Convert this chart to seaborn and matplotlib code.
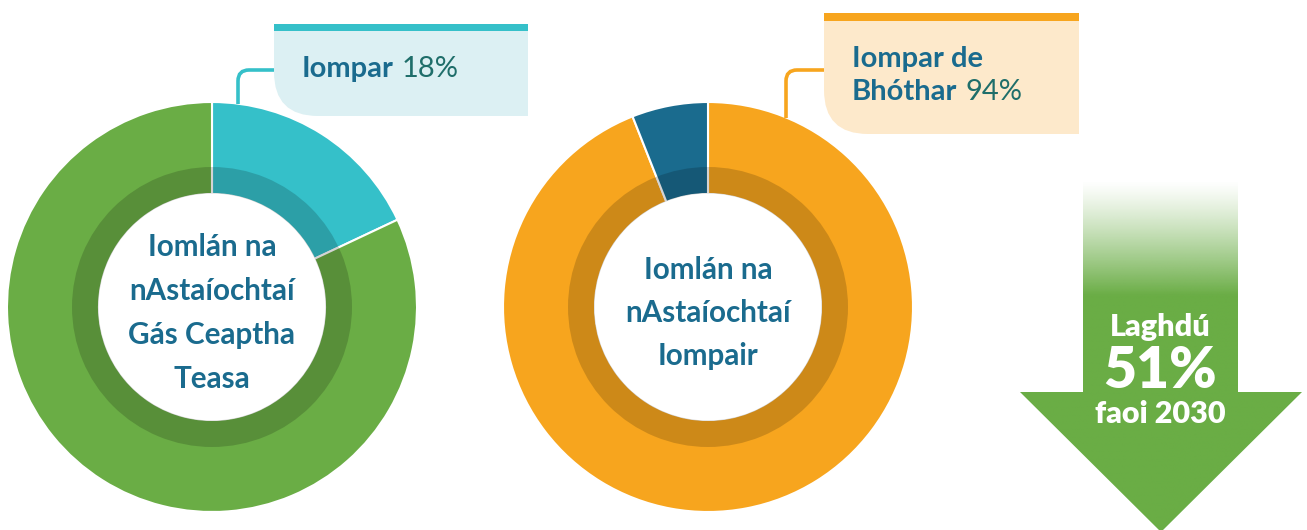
import numpy as np
import matplotlib
matplotlib.use("Agg")
import matplotlib.pyplot as plt
import seaborn as sns
from matplotlib.patches import Wedge, PathPatch, Polygon, Rectangle, Circle
from matplotlib.path import Path

# ---------------- data ----------------
heat_labels = ["Iompar", "Eile"]
heat_values = [18, 82]
transport_labels = ["Iompar de Bhóthar", "Eile"]
transport_values = [94, 6]
heat_title = ["Iomlán na", "nAstaíochtaí", "Gás Ceaptha", "Teasa"]
transport_title = ["Iomlán na", "nAstaíochtaí", "Iompair"]
reduction_pct = 51
reduction_year = 2030

# ---------------- style ----------------
sns.set_theme(style="white")
plt.rcParams["font.family"] = ["Lato", "DejaVu Sans"]

TEAL = "#35c0c9"
GREEN = "#6aad45"
ORANGE = "#f7a51e"
BLUE = "#1a6b8e"
PCT = "#1f6e6a"

W, H = 1307, 530
fig = plt.figure(figsize=(W / 100, H / 100), dpi=100)
ax = fig.add_axes([0, 0, 1, 1])

R_OUT, R_IN = 205, 113


def donut(cx, cy, values, colors):
    ax.pie(values, colors=colors, center=(cx, cy), radius=R_OUT,
           startangle=-90, counterclock=True,
           wedgeprops=dict(width=R_OUT - R_IN, edgecolor="white", linewidth=1.5))
    # darker inner band
    ax.add_patch(Wedge((cx, cy), 140, 0, 360, width=140 - R_IN,
                       facecolor="black", alpha=0.17, linewidth=0))
    ax.add_patch(Circle((cx, cy), R_IN + 0.5, facecolor="white", linewidth=0))


donut(212, 307, heat_values, [TEAL, GREEN])
donut(708, 307, transport_values, [ORANGE, BLUE])

# centre titles
for i, line in enumerate(heat_title):
    ax.text(212, 247 + i * 44, line, ha="center", va="center",
            fontsize=21.3, fontweight="bold", color=BLUE)
for i, line in enumerate(transport_title):
    ax.text(708, 270 + i * 43, line, ha="center", va="center",
            fontsize=21.3, fontweight="bold", color=BLUE)


# ---------------- callouts ----------------
def callout(x0, x1, ytop, ybar, ybot, fill, bar):
    r = 44
    verts = [(x0, ybar), (x1, ybar), (x1, ybot), (x0 + r, ybot),
             (x0, ybot), (x0, ybot - r), (x0, ybar)]
    codes = [Path.MOVETO, Path.LINETO, Path.LINETO, Path.LINETO,
             Path.CURVE3, Path.CURVE3, Path.CLOSEPOLY]
    ax.add_patch(PathPatch(Path(verts, codes), facecolor=fill, edgecolor="none"))
    ax.add_patch(Rectangle((x0, ytop), x1 - x0, ybar - ytop, facecolor=bar,
                           edgecolor="none"))


def connector(xbox, xv, yh, yend, color):
    r = 11
    verts = [(xbox, yh), (xv + r, yh), (xv, yh), (xv, yh + r), (xv, yend)]
    codes = [Path.MOVETO, Path.LINETO, Path.CURVE3, Path.CURVE3, Path.LINETO]
    ax.add_patch(PathPatch(Path(verts, codes), facecolor="none", edgecolor=color,
                           linewidth=2.6, capstyle="butt"))


callout(274, 528, 24, 31, 116, "#dcf0f3", TEAL)
connector(274, 238, 70, 104, TEAL)
callout(824, 1079, 13, 21, 134, "#fde9cb", ORANGE)
connector(824, 786, 70, 118, ORANGE)

renderer = fig.canvas.get_renderer()


def mixed(x, y, bold, light):
    t = ax.text(x, y, bold, ha="left", va="baseline", fontsize=21,
                fontweight="bold", color=BLUE)
    w = t.get_window_extent(renderer).width
    ax.text(x + w + 8, y, light, ha="left", va="baseline", fontsize=21,
            fontweight="normal", color=PCT)


mixed(302, 77, heat_labels[0], f"{heat_values[0]}%")
ax.text(852, 67, "Iompar de", ha="left", va="baseline", fontsize=21,
        fontweight="bold", color=BLUE)
mixed(852, 100, "Bhóthar", f"{transport_values[0]}%")

# ---------------- arrow ----------------
ax_l, ax_r, ah_l, ah_r = 1083, 1238, 1020, 1302
top, head_y, tip_y = 180, 392, 532
arrow = Polygon([(ax_l, top), (ax_r, top), (ax_r, head_y), (ah_r, head_y),
                 ((ah_l + ah_r) / 2, tip_y), (ah_l, head_y), (ax_l, head_y)],
                closed=True, facecolor="none", edgecolor="none")
ax.add_patch(arrow)
ys = np.linspace(top, tip_y, 400)
alpha = np.clip((ys - top) / (295 - top), 0, 1) ** 1.2
rgb = matplotlib.colors.to_rgb(GREEN)
img = np.zeros((len(ys), 1, 4))
img[:, 0, :3] = rgb
img[:, 0, 3] = alpha
im = ax.imshow(img, extent=(ah_l, ah_r, tip_y, top), origin="upper",
               interpolation="bilinear", zorder=1)
im.set_clip_path(arrow)

cx_arrow = (ax_l + ax_r) / 2
ax.text(cx_arrow, 327, "Laghdú", ha="center", va="center", fontsize=22,
        fontweight="heavy", color="white", zorder=3)
ax.text(cx_arrow, 371, f"{reduction_pct}%", ha="center", va="center",
        fontsize=41, fontweight="heavy", color="white", zorder=3)
ax.text(cx_arrow, 414, f"faoi {reduction_year}", ha="center", va="center",
        fontsize=22, fontweight="heavy", color="white", zorder=3)

ax.set_xlim(0, W)
ax.set_ylim(H, 0)
ax.set_aspect("auto")
ax.axis("off")

fig.savefig("out.png", dpi=100, facecolor="white")
